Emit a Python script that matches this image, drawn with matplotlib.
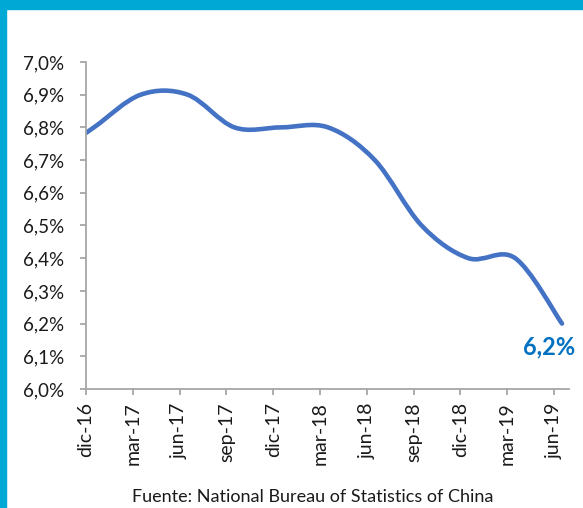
import matplotlib.pyplot as plt
import matplotlib.path as mpath
import matplotlib.patches as mpatches

plt.rcParams['font.family'] = ['Lato', 'DejaVu Sans']

# PIB de China, crecimiento interanual (%) por trimestre
# el primer trimestre (sep-16) queda fuera del eje y solo se ve su tramo de linea
quarters = ["sep-16", "dic-16", "mar-17", "jun-17", "sep-17", "dic-17", "mar-18",
            "jun-18", "sep-18", "dic-18", "mar-19", "jun-19"]
gdp = [6.7, 6.8, 6.9, 6.9, 6.8, 6.8, 6.8, 6.7, 6.5, 6.4, 6.4, 6.2]
tick_labels = quarters[1:]
yticks = [6.0, 6.1, 6.2, 6.3, 6.4, 6.5, 6.6, 6.7, 6.8, 6.9, 7.0]
source = "Fuente: National Bureau of Statistics of China"

gray = "#A6A6A6"
line_col = "#4472C4"
border = "#00A8D6"
shift = 0.17  # los puntos caen un poco a la derecha de cada marca (eje de fechas)

fig = plt.figure(figsize=(5.83, 5.08), dpi=100)
fig.patch.set_facecolor("white")

# bandas azules del marco (arriba e izquierda)
fig.patches.append(mpatches.Rectangle((0, 1 - 9 / 508), 1, 9 / 508,
                                      transform=fig.transFigure, color=border, zorder=0))
fig.patches.append(mpatches.Rectangle((0, 0), 6 / 583, 1,
                                      transform=fig.transFigure, color=border, zorder=0))

ax = fig.add_axes([0.1475, 0.2343, 0.8285, 0.6437])

# linea suavizada tipo Excel (curvas de Bezier entre los puntos)
x = [i - 1 + shift for i in range(len(gdp))]
pts = list(zip(x, gdp))
verts = [pts[0]]
codes = [mpath.Path.MOVETO]
n = len(pts)
for i in range(n - 1):
    p0 = pts[max(i - 1, 0)]
    p1 = pts[i]
    p2 = pts[i + 1]
    p3 = pts[min(i + 2, n - 1)]
    c1 = (p1[0] + (p2[0] - p0[0]) / 6, p1[1] + (p2[1] - p0[1]) / 6)
    c2 = (p2[0] - (p3[0] - p1[0]) / 6, p2[1] - (p3[1] - p1[1]) / 6)
    verts += [c1, c2, p2]
    codes += [mpath.Path.CURVE4] * 3
path = mpath.Path(verts, codes)
ax.add_patch(mpatches.PathPatch(path, fill=False, edgecolor=line_col,
                                lw=3.3, capstyle="round", joinstyle="round"))

ax.set_xlim(0, 10.32)
ax.set_ylim(6.0, 7.0)
ax.set_yticks(yticks)
ax.set_yticklabels([f"{v:.1f}%".replace(".", ",") for v in yticks])
ax.set_xticks(range(len(tick_labels)))
ax.set_xticklabels(tick_labels, rotation=90)

for s in ["top", "right"]:
    ax.spines[s].set_visible(False)
for s in ["left", "bottom"]:
    ax.spines[s].set_color(gray)
    ax.spines[s].set_linewidth(1.3)
ax.tick_params(axis="y", length=4.5, width=1.3, color=gray, pad=11, labelsize=13.5, labelcolor="#1a1a1a")
ax.tick_params(axis="x", length=4.5, width=1.3, color=gray, pad=5, labelsize=14, labelcolor="#1a1a1a")

ax.annotate(f"{gdp[-1]:.1f}%".replace(".", ","), xy=(x[-1], gdp[-1]),
            xytext=(-9.5, -16.5), textcoords="offset points", ha="center", va="center",
            fontsize=17, fontweight="bold", color="#0070C0", annotation_clip=False)

fig.text(313 / 583, 1 - 497 / 508, source, ha="center", va="center", fontsize=13, color="#1a1a1a")

fig.savefig("out.png", dpi=100)
